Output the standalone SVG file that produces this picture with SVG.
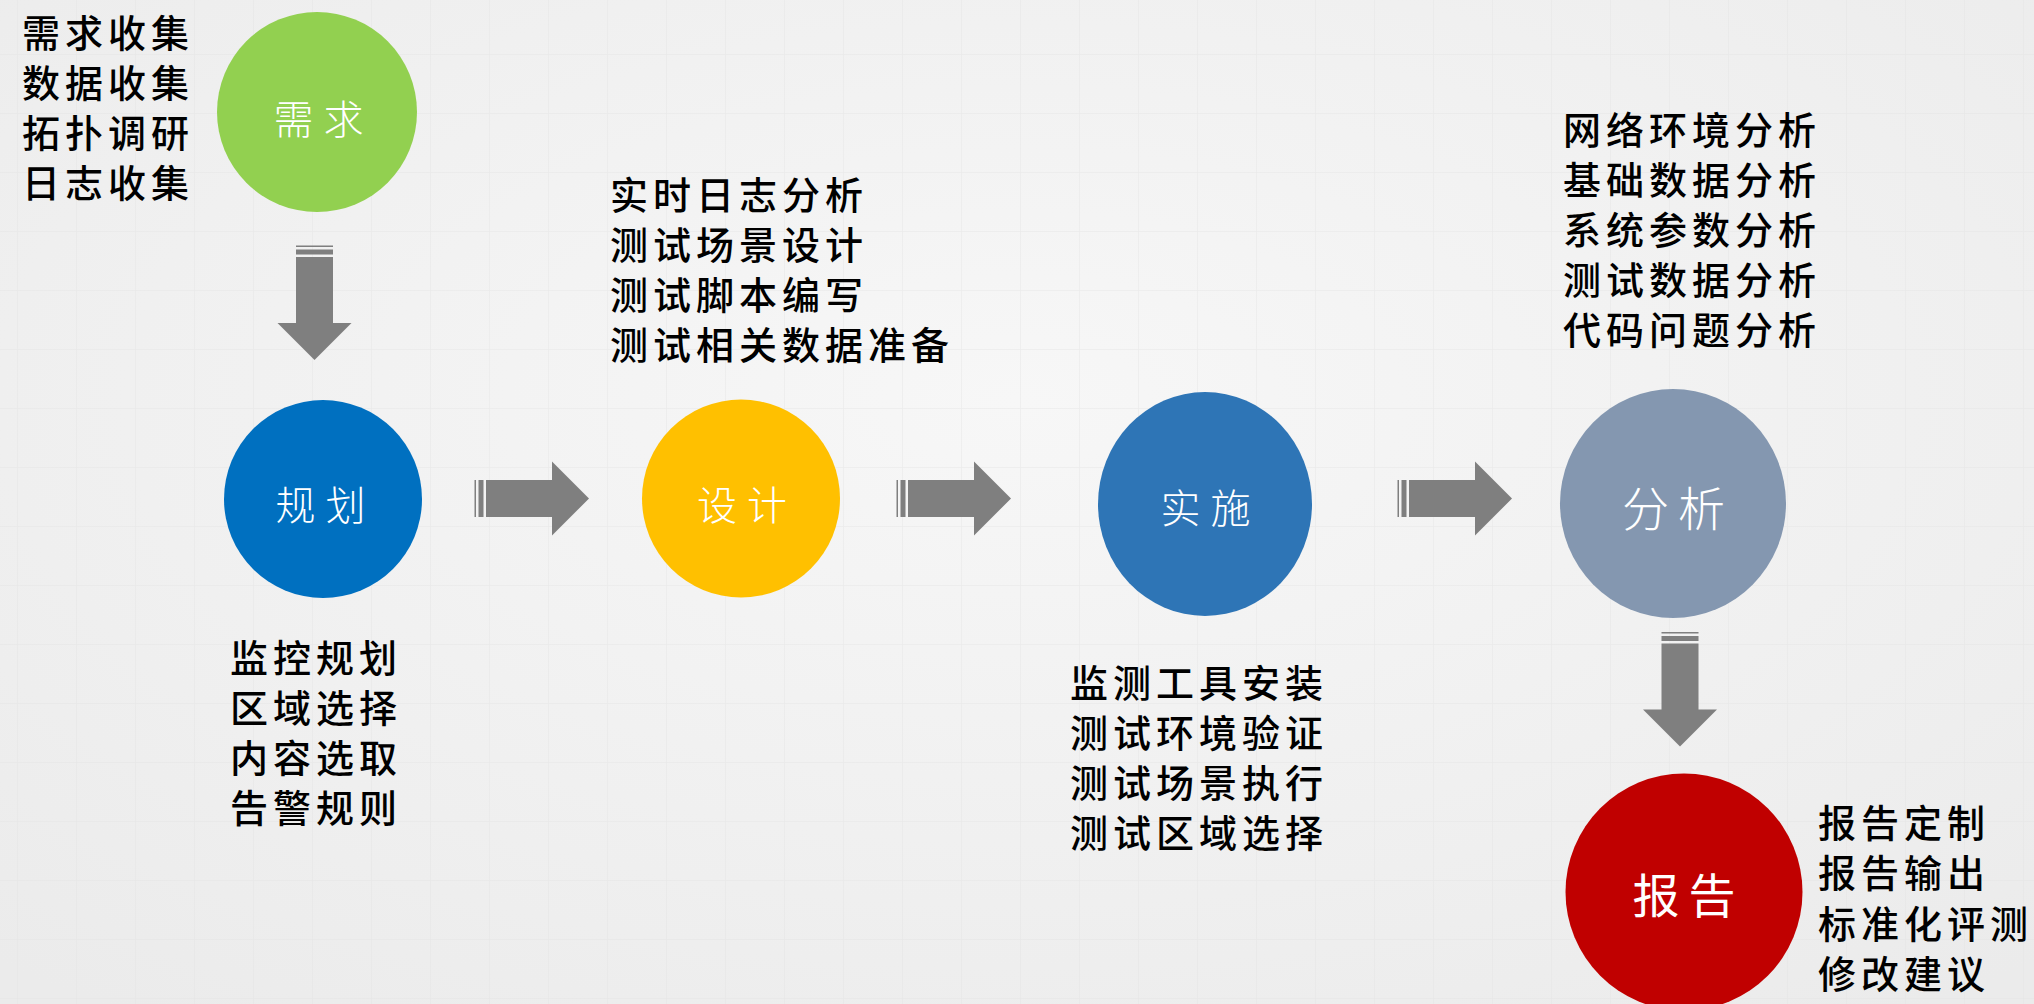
<svg xmlns="http://www.w3.org/2000/svg" width="2034" height="1004" viewBox="0 0 2034 1004">
  <style>
    .lbl { font-family: "Noto Sans CJK SC", "Noto Sans", sans-serif; fill: #ffffff; text-anchor: middle; font-weight: 300; }
    .lbl-sm { font-size: 40px; letter-spacing: 10px; }
    .lbl-lg { font-size: 47px; letter-spacing: 9px; }
    .body { font-family: "Noto Sans CJK SC", "Noto Sans", sans-serif; font-size: 38px; letter-spacing: 5px; fill: #000000; font-weight: 500; }
    .arrow { fill: #7f7f7f; }
  </style>
  <defs>
    <radialGradient id="bg" cx="50%" cy="40%" r="75%">
      <stop offset="0" stop-color="#f7f7f7"/>
      <stop offset="1" stop-color="#ebebeb"/>
    </radialGradient>
    <pattern id="grid" x="17" y="54" width="59" height="59" patternUnits="userSpaceOnUse">
      <path d="M0,0 H59 M0,0 V59" fill="none" stroke="#e2e2e2" stroke-width="1.5"/>
    </pattern>
    <g id="striped-arrow">
      <rect x="0.5" y="-18.5" width="1.5" height="37"/>
      <rect x="4.5" y="-18.5" width="5" height="37"/>
      <path d="M12,-18.5 H78 V-37 L115,0 L78,37 V18.5 H12 Z"/>
    </g>
  </defs>

  <rect x="0" y="0" width="2034" height="1004" fill="url(#bg)"/>
  <rect x="0" y="0" width="2034" height="1004" fill="url(#grid)" opacity="0.5"/>

  <g id="connectors" class="arrow">
    <use href="#striped-arrow" transform="translate(314.5,245) rotate(90)"/>
    <use href="#striped-arrow" transform="translate(474,498.5)"/>
    <use href="#striped-arrow" transform="translate(896,498.5)"/>
    <use href="#striped-arrow" transform="translate(1397,498.5)"/>
    <use href="#striped-arrow" transform="translate(1680,631.5) rotate(90)"/>
  </g>

  <g id="node-xuqiu">
    <circle cx="317" cy="112" r="100" fill="#92d050"/>
    <text class="lbl lbl-sm" x="323.5" y="134">需求</text>
    <text class="body">
      <tspan x="22" y="47">需求收集</tspan>
      <tspan x="22" y="97">数据收集</tspan>
      <tspan x="22" y="147">拓扑调研</tspan>
      <tspan x="22" y="197">日志收集</tspan>
    </text>
  </g>

  <g id="node-guihua">
    <circle cx="323" cy="499" r="99" fill="#0070c0"/>
    <text class="lbl lbl-sm" x="325.5" y="520">规划</text>
    <text class="body">
      <tspan x="230" y="672">监控规划</tspan>
      <tspan x="230" y="722">区域选择</tspan>
      <tspan x="230" y="772">内容选取</tspan>
      <tspan x="230" y="822">告警规则</tspan>
    </text>
  </g>

  <g id="node-sheji">
    <circle cx="741" cy="498.5" r="99" fill="#ffc000"/>
    <text class="lbl lbl-sm" x="747" y="520">设计</text>
    <text class="body">
      <tspan x="610" y="209">实时日志分析</tspan>
      <tspan x="610" y="259">测试场景设计</tspan>
      <tspan x="610" y="309">测试脚本编写</tspan>
      <tspan x="610" y="359">测试相关数据准备</tspan>
    </text>
  </g>

  <g id="node-shishi">
    <ellipse cx="1205" cy="504" rx="107" ry="112" fill="#2e75b6"/>
    <text class="lbl lbl-sm" x="1210.5" y="523">实施</text>
    <text class="body">
      <tspan x="1070" y="697">监测工具安装</tspan>
      <tspan x="1070" y="747">测试环境验证</tspan>
      <tspan x="1070" y="797">测试场景执行</tspan>
      <tspan x="1070" y="847">测试区域选择</tspan>
    </text>
  </g>

  <g id="node-fenxi">
    <ellipse cx="1673" cy="503.5" rx="113" ry="114.5" fill="#8497b0"/>
    <text class="lbl lbl-lg" x="1678" y="526">分析</text>
    <text class="body">
      <tspan x="1563" y="144">网络环境分析</tspan>
      <tspan x="1563" y="194">基础数据分析</tspan>
      <tspan x="1563" y="244">系统参数分析</tspan>
      <tspan x="1563" y="294">测试数据分析</tspan>
      <tspan x="1563" y="344">代码问题分析</tspan>
    </text>
  </g>

  <g id="node-baogao">
    <circle cx="1684" cy="892" r="118.5" fill="#c00000"/>
    <text class="lbl lbl-lg" x="1688.5" y="913" style="font-weight:400">报告</text>
    <text class="body">
      <tspan x="1818" y="837">报告定制</tspan>
      <tspan x="1818" y="887">报告输出</tspan>
      <tspan x="1818" y="938">标准化评测</tspan>
      <tspan x="1818" y="988">修改建议</tspan>
    </text>
  </g>
</svg>
